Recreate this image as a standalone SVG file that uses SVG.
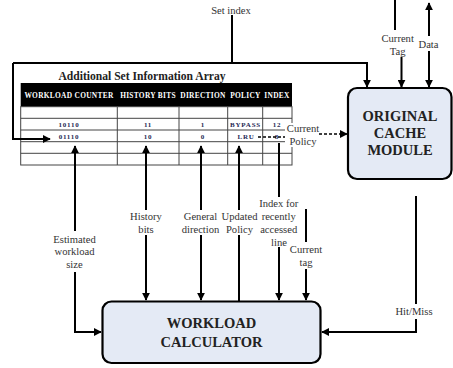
<svg xmlns="http://www.w3.org/2000/svg" width="453" height="368" viewBox="0 0 453 368">
<style>
  .ln{fill:none;stroke:#000;stroke-width:2}
  .dash{fill:none;stroke:#000;stroke-width:1.5;stroke-dasharray:3,2}
  .lbl{font-family:"Liberation Serif",serif;font-size:10.6px;fill:#333;text-anchor:middle}
  .box{fill:#E4EAF5;stroke:#000;stroke-width:2.2}
  .boxt{font-family:"Liberation Serif",serif;font-size:14.5px;font-weight:bold;fill:#222;text-anchor:middle}
  .hdr{font-family:"Liberation Serif",serif;font-size:7.4px;font-weight:bold;fill:#fff;text-anchor:middle;letter-spacing:0.3px}
  .cell{font-family:"Liberation Serif",serif;font-size:7px;font-weight:bold;fill:#1F2A55;text-anchor:middle;letter-spacing:0.8px}
  .grid{stroke:#444;stroke-width:1;fill:none}
  .bg{fill:#fff}
</style>
<defs>
  <marker id="arr" viewBox="0 0 10 10" refX="9" refY="5" markerWidth="8" markerHeight="8" markerUnits="userSpaceOnUse" orient="auto-start-reverse">
    <path d="M0,0 L10,5 L0,10 z" fill="#000"/>
  </marker>
</defs>
<rect width="453" height="368" fill="#fff"/>

<g id="table">
  <text x="142" y="80" font-family="Liberation Serif, serif" font-size="11.6" font-weight="bold" fill="#222" text-anchor="middle">Additional Set Information Array</text>
  <rect x="20.7" y="83" width="271.3" height="23.7" fill="#000"/>
  <text class="hdr" x="69" y="98.3">WORKLOAD COUNTER</text>
  <text class="hdr" x="148" y="98.3">HISTORY BITS</text>
  <text class="hdr" x="203" y="98.3">DIRECTION</text>
  <text class="hdr" x="245.5" y="98.3">POLICY</text>
  <text class="hdr" x="277" y="98.3">INDEX</text>
  <rect class="grid" x="20.7" y="106.7" width="271.3" height="58.3"/>
  <path class="grid" d="M20.7,118.3H292M20.7,130H292M20.7,141.7H292M20.7,153.3H292"/>
  <path class="grid" stroke="#777" d="M117.3,106.7V165M179,106.7V165M227.7,106.7V165M262.7,106.7V165"/>
  <text class="cell" x="69" y="126.5">10110</text>
  <text class="cell" x="148" y="126.5">11</text>
  <text class="cell" x="203" y="126.5">1</text>
  <text class="cell" x="245.5" y="126.5" letter-spacing="0">BYPASS</text>
  <text class="cell" x="277" y="126.5">12</text>
  <text class="cell" x="69" y="138.5">01110</text>
  <text class="cell" x="148" y="138.5">10</text>
  <text class="cell" x="203" y="138.5">0</text>
  <text class="cell" x="246" y="138.5" letter-spacing="0">LRU</text>
  <text class="cell" x="277" y="138.5">8</text>
</g>

<g id="cache-module">
  <rect class="box" x="348" y="88" width="103.5" height="91" rx="9"/>
  <text class="boxt" x="400" y="121">ORIGINAL</text>
  <text class="boxt" x="400" y="138">CACHE</text>
  <text class="boxt" x="400" y="155">MODULE</text>
</g>

<g id="workload-calculator">
  <rect class="box" x="102.5" y="301.5" width="218" height="61.5" rx="9"/>
  <text class="boxt" x="211.5" y="328">WORKLOAD</text>
  <text class="boxt" x="211.5" y="346.5">CALCULATOR</text>
</g>

<g id="connectors">
  <path class="ln" d="M232,15V63"/>
  <path class="ln" d="M13,63H367V87" marker-end="url(#arr)"/>
  <path class="ln" d="M13,63V139H50" marker-end="url(#arr)"/>
  <path class="ln" d="M75,146V332H101" marker-start="url(#arr)" marker-end="url(#arr)"/>
  <path class="ln" d="M146,146V300" marker-start="url(#arr)" marker-end="url(#arr)"/>
  <path class="ln" d="M201,146V300" marker-start="url(#arr)" marker-end="url(#arr)"/>
  <path class="ln" d="M239,146V301" marker-start="url(#arr)"/>
  <path class="ln" d="M279,143V300" marker-end="url(#arr)"/>
  <path class="ln" d="M306,209V300" marker-end="url(#arr)"/>
  <path class="ln" d="M416,196V332H322" marker-end="url(#arr)"/>
  <path class="ln" d="M395,0V30"/>
  <path class="ln" d="M401.5,57V87" marker-end="url(#arr)"/>
  <path class="ln" d="M429,3V87" marker-start="url(#arr)" marker-end="url(#arr)"/>
  <path class="dash" d="M258,137H285"/>
  <path class="dash" d="M319,134H347" marker-end="url(#arr)"/>
</g>

<g id="labels">
  <text class="lbl" x="231" y="13.5" font-size="11">Set index</text>
  <rect class="bg" x="380" y="31" width="36" height="25"/>
  <text class="lbl" x="397.7" y="41.5">Current</text>
  <text class="lbl" x="397.7" y="54.5">Tag</text>
  <rect class="bg" x="415" y="36" width="28" height="15"/>
  <text class="lbl" x="428.5" y="47.5">Data</text>
  <rect class="bg" x="285" y="123" width="34" height="24"/>
  <text class="lbl" x="303" y="132.3">Current</text>
  <text class="lbl" x="303" y="145">Policy</text>
  <rect class="bg" x="51" y="231" width="48" height="41"/>
  <text class="lbl" x="74.5" y="242.5">Estimated</text>
  <text class="lbl" x="74.5" y="255">workload</text>
  <text class="lbl" x="74.5" y="268">size</text>
  <rect class="bg" x="129" y="210" width="34" height="25"/>
  <text class="lbl" x="146" y="220">History</text>
  <text class="lbl" x="146" y="233">bits</text>
  <rect class="bg" x="180" y="210" width="40" height="25"/>
  <text class="lbl" x="200.5" y="220">General</text>
  <text class="lbl" x="200.5" y="233">direction</text>
  <rect class="bg" x="221" y="210" width="37" height="25"/>
  <text class="lbl" x="239.5" y="220">Updated</text>
  <text class="lbl" x="239.5" y="233">Policy</text>
  <rect class="bg" x="259" y="197" width="40" height="50"/>
  <text class="lbl" x="278.7" y="206.5">Index for</text>
  <text class="lbl" x="278.7" y="220">recently</text>
  <text class="lbl" x="278.7" y="233">accessed</text>
  <text class="lbl" x="279" y="245.5">line</text>
  <rect class="bg" x="289" y="242" width="34" height="27"/>
  <text class="lbl" x="306" y="252.7">Current</text>
  <text class="lbl" x="306" y="265.5">tag</text>
  <rect class="bg" x="395" y="304" width="40" height="15"/>
  <text class="lbl" x="414" y="315">Hit/Miss</text>
</g>
</svg>
